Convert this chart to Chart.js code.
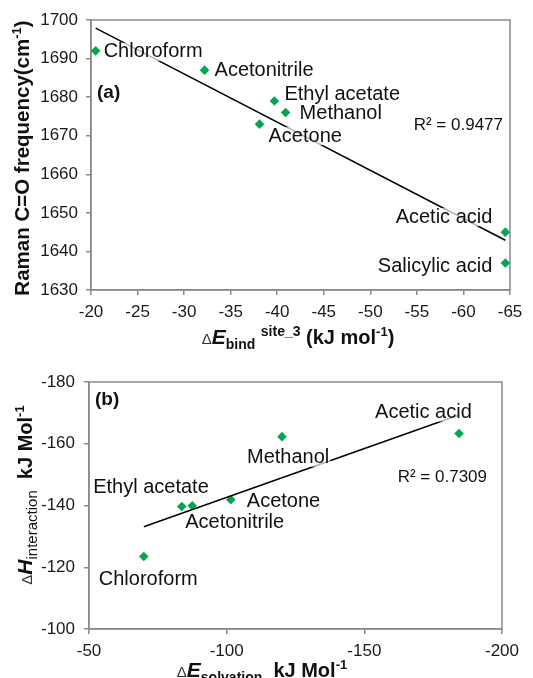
<!DOCTYPE html>
<html><head><meta charset="utf-8">
<script src="https://cdn.jsdelivr.net/npm/chart.js@4.4.1/dist/chart.umd.min.js"></script>
<style>
html,body{margin:0;padding:0;background:#fff;}
#wrap{position:relative;width:533px;height:678px;overflow:hidden;font-family:"Liberation Sans",Arial,sans-serif;color:#111;}
canvas{position:absolute;left:0;}
.title{position:absolute;white-space:nowrap;font-weight:bold;font-size:20px;line-height:20px;}
.rot{transform:translate(-50%,-50%) rotate(-90deg);}
.dl{font-weight:normal;font-size:15px;color:#333;}
.it{font-style:italic;font-size:21px;}
.sb{font-size:14px;position:relative;top:5px;}
.sbn{font-size:15px;font-weight:normal;position:relative;top:5px;}
.sp{font-size:13px;position:relative;top:-8px;}
</style></head><body>
<div id="wrap">
<canvas id="ca" width="533" height="340" style="top:0"></canvas>
<canvas id="cb" width="533" height="338" style="top:340px"></canvas>
<div class="title rot" style="left:23px;top:158px;font-size:20.5px">Raman C=O frequency(cm<span class="sp">-1</span>)</div>
<div class="title" style="left:298px;top:327px;transform:translateX(-50%)"><span class="dl">Δ</span><span class="it">E</span><span class="sb">bind</span> <span class="sp" style="font-size:14px">site_3</span> (kJ mol<span class="sp">-1</span>)</div>
<div class="title rot" style="left:26px;top:495px"><span class="dl">Δ</span><span class="it">H</span><span class="sbn">interaction</span>&nbsp;&nbsp;kJ Mol<span class="sp">-1</span></div>
<div class="title" style="left:262px;top:660px;transform:translateX(-50%)"><span class="dl">Δ</span><span class="it">E</span><span class="sb">solvation</span>&nbsp;&nbsp;kJ Mol<span class="sp">-1</span></div>
</div>
<script>
// ---- Panel (a) data ----
const solventsA = ['Chloroform','Acetonitrile','Ethyl acetate','Methanol','Acetone','Acetic acid','Salicylic acid'];
const bindEnergyA = [-20.5,-32.2,-39.7,-40.9,-38.1,-64.5,-64.5];
const ramanFreqA = [1692,1687,1679,1676,1673,1645,1637];
const trendXA = [-20.5,-64.5];
const trendYA = [1697.9,1642.9];
const xTicksA = [-20,-25,-30,-35,-40,-45,-50,-55,-60,-65];
const yTicksA = [1630,1640,1650,1660,1670,1680,1690,1700];
const r2A = 'R² = 0.9477';

// ---- Panel (b) data ----
const solventsB = ['Chloroform','Ethyl acetate','Acetonitrile','Acetone','Methanol','Acetic acid'];
const solvationB = [-69.9,-83.7,-87.5,-101.5,-120.1,-184.4];
const interactionB = [-123.5,-139.7,-139.9,-141.9,-162.3,-163.3];
const trendXB = [-69.9,-184.4];
const trendYB = [-133.1,-169.3];
const xTicksB = [-50,-100,-150,-200];
const yTicksB = [-180,-160,-140,-120,-100];
const r2B = 'R² = 0.7309';

// ---- label placement (style only) ----
const labelOffA = [
  {dx:8,dy:1,align:'left'},{dx:10,dy:0,align:'left'},{dx:10,dy:-7,align:'left'},
  {dx:14,dy:1,align:'left'},{dx:9,dy:12,align:'left'},{dx:-13,dy:-15,align:'right'},
  {dx:-13,dy:3,align:'right'}
];
const labelOffB = [
  {dx:-45,dy:23,align:'left'},{dx:27,dy:-19,align:'right'},{dx:-7,dy:17,align:'left'},
  {dx:16,dy:2,align:'left'},{dx:-35,dy:21,align:'left'},{dx:-84,dy:-21,align:'left'}
];

const FAM = '"Liberation Sans", Arial, sans-serif';
const AXC = '#8a8a8a';
const GREEN = '#00a651';

function labelPlugin(names, offs, extras){
  return {id:'lbl', afterDatasetsDraw(chart){
    const ctx = chart.ctx, meta = chart.getDatasetMeta(1), ca = chart.chartArea;
    ctx.save();
    ctx.textBaseline = 'middle';
    ctx.font = '20px ' + FAM;
    names.forEach((n,i)=>{
      const p = meta.data[i], s = offs[i];
      const x = p.x + s.dx, y = p.y + s.dy;
      const w = ctx.measureText(n).width;
      const l = s.align === 'right' ? x - w : x;
      ctx.fillStyle = 'rgba(255,255,255,0.7)';
      ctx.fillRect(l - 1, y - 9, w + 2, 18);
      ctx.fillStyle = '#111';
      ctx.textAlign = s.align;
      ctx.fillText(n, x, y);
    });
    extras.forEach(e=>{
      ctx.font = e.font;
      ctx.textAlign = e.align;
      const x = e.align === 'right' ? ca.right + e.dx : ca.left + e.dx;
      ctx.fillStyle = '#111';
      ctx.fillText(e.text, x, ca.top + e.dy);
    });
    ctx.restore();
  }};
}
const framePlugin = {id:'frame', beforeDatasetsDraw(chart){
  const ctx = chart.ctx, ca = chart.chartArea;
  ctx.save(); ctx.strokeStyle = AXC; ctx.lineWidth = 1.5;
  ctx.strokeRect(ca.left, ca.top, ca.right - ca.left, ca.bottom - ca.top);
  ctx.restore();
}};

function axis(min, max, ticksArr, fitFn, pad){
  return {
    type:'linear', min, max, reverse: false,
    afterBuildTicks(s){ s.ticks = ticksArr.map(v=>({value:v})); },
    afterFit: fitFn,
    grid:{drawOnChartArea:false, drawTicks:true, tickLength:5, color:AXC, lineWidth:1.5},
    border:{display:true, color:AXC, width:1.5},
    ticks:{color:'#1a1a1a', font:{family:FAM, size:17}, padding:pad, autoSkip:false, maxRotation:0,
           callback:(v)=>String(v)}
  };
}

function makeChart(id, xs, ys, tx, ty, xr, yr, xt, yt, geom, names, offs, extras){
  const xAx = axis(xr[0], xr[1], xt, s=>{s.height = geom.xh;}, geom.xpad);
  xAx.reverse = xr[2];
  const yAx = axis(yr[0], yr[1], yt, s=>{s.width = geom.yw;}, geom.ypad);
  yAx.reverse = yr[2];
  return new Chart(document.getElementById(id), {
    type:'scatter',
    data:{datasets:[
      {data: tx.map((x,i)=>({x, y:ty[i]})), showLine:true, borderColor:'#000', borderWidth:1.5, pointRadius:0, fill:false},
      {data: xs.map((x,i)=>({x, y:ys[i]})), pointStyle:'rectRot', pointRadius:4.8, backgroundColor:GREEN, borderColor:GREEN, borderWidth:0}
    ]},
    options:{
      responsive:false, animation:false, devicePixelRatio:1,
      layout:{padding:{top:geom.top, right:geom.right, left:0, bottom:0}},
      plugins:{legend:{display:false}, tooltip:{enabled:false}},
      scales:{x:xAx, y:yAx}
    },
    plugins:[framePlugin, labelPlugin(names, offs, extras)]
  });
}

makeChart('ca', bindEnergyA, ramanFreqA, trendXA, trendYA,
  [-65,-20,true], [1630,1700,false], xTicksA, yTicksA,
  {top:20, right:23, yw:91, xh:50, xpad:7, ypad:8},
  solventsA, labelOffA,
  [{text:'(a)', font:'bold 19px '+FAM, align:'left', dx:6, dy:73},
   {text:r2A, font:'17px '+FAM, align:'right', dx:-7, dy:105}]);

makeChart('cb', solvationB, interactionB, trendXB, trendYB,
  [-200,-50,true], [-180,-100,true], xTicksB, yTicksB,
  {top:42, right:31, yw:89, xh:49, xpad:7, ypad:9},
  solventsB, labelOffB,
  [{text:'(b)', font:'bold 19px '+FAM, align:'left', dx:6, dy:18},
   {text:r2B, font:'17px '+FAM, align:'right', dx:-15, dy:95}]);
</script>
</body></html>
